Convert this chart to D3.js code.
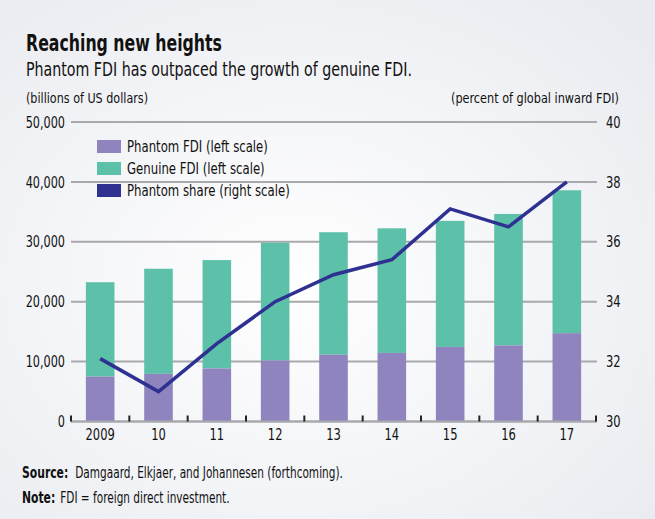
<!DOCTYPE html>
<html>
<head>
<meta charset="utf-8">
<script src="https://cdn.jsdelivr.net/npm/d3@7"></script>
<style>
  body { margin: 0; background: #f3f4f8; }
  text { font-family: "Liberation Sans Narrow", "DejaVu Sans Condensed", "Roboto", sans-serif; fill: #111; }
</style>
</head>
<body>
<div id="chart"></div>
<script>
// Data
const years = ["2009", "10", "11", "12", "13", "14", "15", "16", "17"];
const phantom = [7500, 7950, 8850, 10200, 11150, 11450, 12450, 12700, 14750];
const total = [23250, 25500, 26950, 29850, 31600, 32250, 33500, 34650, 38600];
const share = [32.1, 31.0, 32.6, 34.0, 34.9, 35.4, 37.1, 36.5, 38.0];
const leftTicks = [0, 10000, 20000, 30000, 40000, 50000];
const rightTicks = [30, 32, 34, 36, 38, 40];
const legendItems = ["Phantom FDI (left scale)", "Genuine FDI (left scale)", "Phantom share (right scale)"];

const W = 655, H = 519;
const colors = { phantom: "#8f84bd", genuine: "#5cc1a8", line: "#2e3192", grid: "#a8a9ad" };

// squeeze text horizontally so the wide fallback font reads like a condensed face
function condense(sel, k) {
  sel.each(function () {
    const w = this.getComputedTextLength();
    d3.select(this).attr("textLength", w * k).attr("lengthAdjust", "spacingAndGlyphs");
  });
}

const svg = d3.select("#chart").append("svg")
  .attr("width", W)
  .attr("height", H);

// soft background
const defs = svg.append("defs");
const bg = defs.append("radialGradient").attr("id", "bg").attr("cx", "45%").attr("cy", "55%").attr("r", "70%");
bg.append("stop").attr("offset", "0%").attr("stop-color", "#ffffff");
bg.append("stop").attr("offset", "100%").attr("stop-color", "#eaecf1");
svg.append("rect").attr("width", W).attr("height", H).attr("fill", "url(#bg)");

// scales
const x = d3.scaleBand().domain(years).range([71, 596]).paddingInner(0.51).paddingOuter(0.255);
const yL = d3.scaleLinear().domain([0, 50000]).range([421.5, 122]);
const yR = d3.scaleLinear().domain([30, 40]).range([421.5, 122]);

// titles
svg.append("text").attr("x", 26).attr("y", 51)
  .attr("font-size", 23).attr("font-weight", "bold")
  .attr("textLength", 196).attr("lengthAdjust", "spacingAndGlyphs")
  .text("Reaching new heights");
svg.append("text").attr("x", 26).attr("y", 76)
  .attr("font-size", 19)
  .attr("textLength", 386).attr("lengthAdjust", "spacingAndGlyphs")
  .text("Phantom FDI has outpaced the growth of genuine FDI.");
svg.append("text").attr("x", 26).attr("y", 103)
  .attr("font-size", 14.5)
  .attr("textLength", 122).attr("lengthAdjust", "spacingAndGlyphs")
  .text("(billions of US dollars)");
svg.append("text").attr("x", 619).attr("y", 103)
  .attr("font-size", 14.5).attr("text-anchor", "end")
  .attr("textLength", 168).attr("lengthAdjust", "spacingAndGlyphs")
  .text("(percent of global inward FDI)");

// gridlines
svg.append("g")
  .selectAll("line")
  .data(leftTicks)
  .join("line")
  .attr("x1", 71).attr("x2", 597)
  .attr("y1", d => yL(d)).attr("y2", d => yL(d))
  .attr("stroke", colors.grid)
  .attr("stroke-width", 2);

// left axis labels
const axisL = svg.append("g")
  .attr("transform", "translate(71,0)")
  .call(d3.axisLeft(yL).tickValues(leftTicks).tickSize(0).tickPadding(6).tickFormat(d3.format(",")));
axisL.select(".domain").remove();
axisL.selectAll("text").attr("font-size", 16).style("font-family", null);
condense(axisL.selectAll("text"), 0.78);

// right axis labels
const axisR = svg.append("g")
  .attr("transform", "translate(597,0)")
  .call(d3.axisRight(yR).tickValues(rightTicks).tickSize(0).tickPadding(9));
axisR.select(".domain").remove();
axisR.selectAll("text").attr("font-size", 16).style("font-family", null);
condense(axisR.selectAll("text"), 0.8);

// stacked bars
const bars = svg.append("g");
bars.selectAll(".genuine")
  .data(years)
  .join("rect")
  .attr("class", "genuine")
  .attr("x", d => x(d))
  .attr("width", x.bandwidth())
  .attr("y", (d, i) => yL(total[i]))
  .attr("height", (d, i) => yL(phantom[i]) - yL(total[i]))
  .attr("fill", colors.genuine);
bars.selectAll(".phantom")
  .data(years)
  .join("rect")
  .attr("class", "phantom")
  .attr("x", d => x(d))
  .attr("width", x.bandwidth())
  .attr("y", (d, i) => yL(phantom[i]))
  .attr("height", (d, i) => yL(0) - yL(phantom[i]))
  .attr("fill", colors.phantom);

// baseline + small ticks between categories
svg.append("line")
  .attr("x1", 71).attr("x2", 597)
  .attr("y1", yL(0)).attr("y2", yL(0))
  .attr("stroke", colors.grid).attr("stroke-width", 2);
const bounds = years.map(d => x(d) - x.step() * x.paddingOuter()).concat([596]);
svg.append("g")
  .selectAll("line")
  .data(bounds)
  .join("line")
  .attr("x1", d => d).attr("x2", d => d)
  .attr("y1", yL(0)).attr("y2", yL(0) - 6)
  .attr("stroke", "#222").attr("stroke-width", 2);

// x labels
const axisX = svg.append("g")
  .attr("transform", `translate(0,${yL(0)})`)
  .call(d3.axisBottom(x).tickSize(0).tickPadding(7));
axisX.select(".domain").remove();
axisX.selectAll("text").attr("font-size", 16).style("font-family", null);
condense(axisX.selectAll("text"), 0.8);

// share line
const line = d3.line()
  .x((d, i) => x(years[i]) + x.bandwidth() / 2)
  .y(d => yR(d));
svg.append("path")
  .datum(share)
  .attr("d", line)
  .attr("fill", "none")
  .attr("stroke", colors.line)
  .attr("stroke-width", 3.5)
  .attr("stroke-linejoin", "miter");

// legend
const legend = svg.append("g").attr("transform", "translate(97,140)");
const legendColors = [colors.phantom, colors.genuine, colors.line];
legendItems.forEach((t, i) => {
  const g = legend.append("g").attr("transform", `translate(0,${i * 22})`);
  g.append("rect").attr("width", 24).attr("height", 13).attr("fill", legendColors[i]);
  const lt = g.append("text").attr("x", 30).attr("y", 7).attr("dy", "0.35em")
    .attr("font-size", 15.5).text(t);
  condense(lt, 0.84);
});

// notes
function noteLine(y, label, body, gap) {
  const b = svg.append("text").attr("x", 22).attr("y", y)
    .attr("font-size", 15).attr("font-weight", "bold").text(label);
  condense(b, 0.8);
  const bw = +b.attr("textLength");
  const t = svg.append("text").attr("x", 22 + bw + gap).attr("y", y)
    .attr("font-size", 15).text(body);
  condense(t, 0.78);
}
noteLine(478, "Source:", "Damgaard, Elkjaer, and Johannesen (forthcoming).", 7);
noteLine(503, "Note:", "FDI = foreign direct investment.", 5);
</script>
</body>
</html>
